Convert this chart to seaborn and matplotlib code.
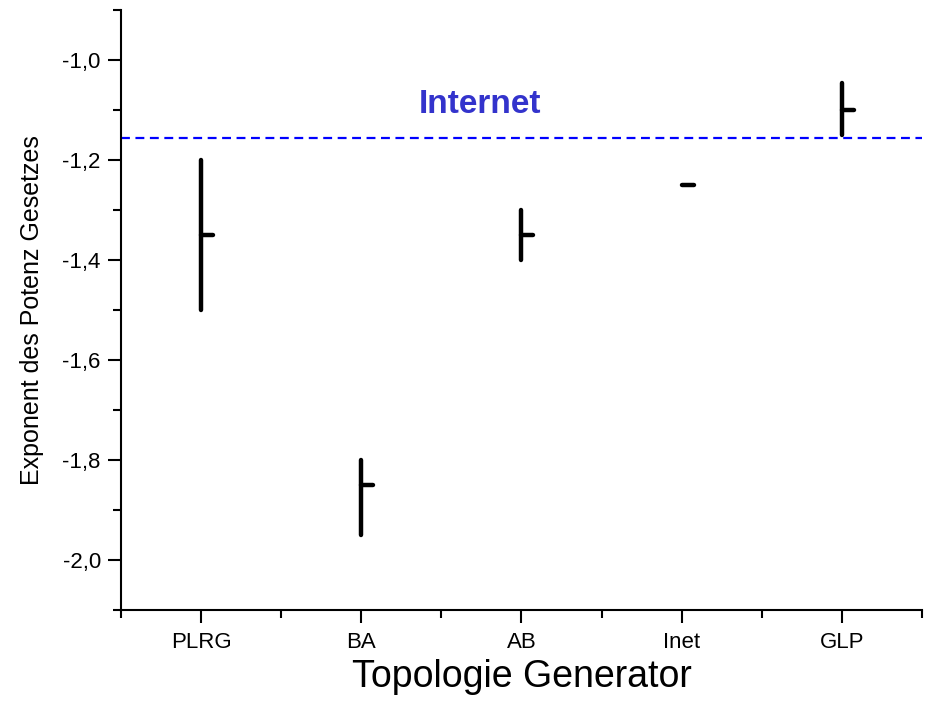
import numpy as np
import pandas as pd
import matplotlib
matplotlib.use("Agg")
import matplotlib.pyplot as plt
import seaborn as sns
from matplotlib.ticker import MultipleLocator, FixedLocator, FuncFormatter

# values
generators = ["PLRG", "BA", "AB", "Inet", "GLP"]
high = [-1.20, -1.80, -1.30, -1.25, -1.045]
low = [-1.50, -1.95, -1.40, -1.25, -1.15]
close = [-1.35, -1.85, -1.35, -1.25, -1.10]
internet_value = -1.155

sns.set_style("ticks")
plt.rcParams['font.family'] = ['Liberation Sans', 'DejaVu Sans']
plt.rcParams['text.color'] = 'black'
plt.rcParams['axes.labelcolor'] = 'black'
plt.rcParams['xtick.color'] = 'black'
plt.rcParams['ytick.color'] = 'black'
plt.rcParams['axes.edgecolor'] = 'black'

# long form: one row for the low and one for the high end of each range
df = pd.DataFrame({
    "Generator": generators * 2,
    "Exponent": low + high,
})
df["pos"] = df["Generator"].map({g: i for i, g in enumerate(generators)})

fig = plt.figure(figsize=(9.52, 7.01), dpi=100)
ax = fig.add_axes([0.127, 0.1298, 0.8415, 0.8559])

sns.lineplot(data=df, x="pos", y="Exponent", units="Generator", estimator=None,
             color="black", lw=3.2, solid_capstyle="round", ax=ax, legend=False)

# short "close" tick to the right of each range
pos = np.arange(len(generators))
ax.hlines(close, pos, pos + 0.075, color="black", lw=3.2, capstyle="round")

ax.axhline(internet_value, color="#0000ff", lw=1.6, ls=(0, (4, 2.5)))
ax.text(1.74, -1.088, "Internet", color="#3333cc", fontsize=24, fontweight="bold",
        ha="center", va="center")

ax.set_xlim(-0.5, len(generators) - 0.5)
ax.set_ylim(-2.1, -0.9)
ax.set_xticks(pos)
ax.set_xticklabels(generators)
ax.xaxis.set_minor_locator(FixedLocator(np.arange(-0.5, len(generators), 1.0)))
ax.yaxis.set_major_locator(FixedLocator([-2.0, -1.8, -1.6, -1.4, -1.2, -1.0]))
ax.yaxis.set_minor_locator(MultipleLocator(0.1))
ax.yaxis.set_major_formatter(FuncFormatter(lambda v, p: f"{v:.1f}".replace(".", ",")))

ax.tick_params(which="major", length=9.5, width=1.5, labelsize=16, direction="out", pad=5)
ax.tick_params(which="minor", length=6, width=1.5, direction="out")
ax.tick_params(axis="x", which="major", pad=6)

for s in ["top", "right"]:
    ax.spines[s].set_visible(False)
for s in ["left", "bottom"]:
    ax.spines[s].set_linewidth(1.5)

ax.set_xlabel("Topologie Generator", fontsize=27, labelpad=5)
ax.set_ylabel("Exponent des Potenz Gesetzes", fontsize=18, labelpad=13)

fig.savefig("out.png", dpi=100)
